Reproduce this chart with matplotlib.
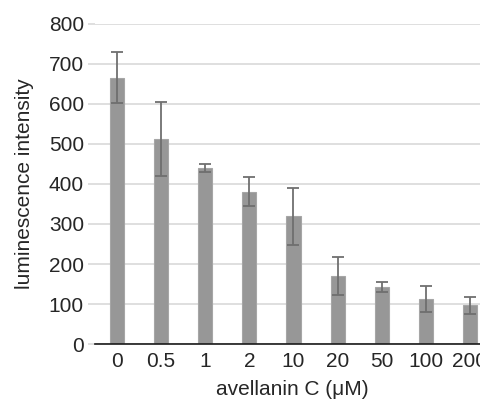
# =========================================================
#        LUMINESCENCE vs AVELLANIN C - BAR CHART
# =========================================================

import numpy as np
import matplotlib
matplotlib.use("Agg")
import matplotlib.pyplot as plt

# =========================================================
# DỮ LIỆU
# =========================================================

concentrations = ["0", "0.5", "1", "2", "10", "20", "50", "100", "200"]

intensity = [666, 512, 441, 381, 319, 170, 142, 112, 97]

intensity_err = [64, 92, 10, 37, 72, 47, 13, 33, 21]

y_ticks = [0, 100, 200, 300, 400, 500, 600, 700, 800]

# =========================================================
# STYLE
# =========================================================

plt.rcParams["font.family"] = ["Liberation Sans", "DejaVu Sans"]
plt.rcParams["font.size"] = 15

bar_color = "#979797"
edge_color = "#a6a6a6"
err_color = "#6f6f6f"
grid_color = "#d9d9d9"
text_color = "#262626"

# =========================================================
# VẼ
# =========================================================

fig = plt.figure(figsize=(4.81, 4.03), dpi=100)

# plot area is wider than the picture: last category is cut off
ax = fig.add_axes([95 / 481, 1 - 344 / 403, 397 / 481, 320 / 403])

x = np.arange(len(concentrations))

ax.bar(
    x,
    intensity,
    width=0.32,
    color=bar_color,
    edgecolor=edge_color,
    linewidth=0.8,
    zorder=2
)

ax.errorbar(
    x,
    intensity,
    yerr=intensity_err,
    fmt="none",
    ecolor=err_color,
    elinewidth=1.3,
    capsize=4,
    capthick=1.3,
    zorder=3
)

ax.set_xlim(-0.5, len(concentrations) - 0.5)
ax.set_ylim(0, 800)

ax.set_yticks(y_ticks)
ax.set_xticks(x)
ax.set_xticklabels(concentrations)

ax.yaxis.grid(True, color=grid_color, linewidth=1.2, zorder=0)
ax.set_axisbelow(True)

for side in ["top", "right", "left"]:
    ax.spines[side].set_visible(False)

ax.spines["bottom"].set_color("#1a1a1a")
ax.spines["bottom"].set_linewidth(1.2)
ax.spines["bottom"].set_clip_on(False)

ax.tick_params(axis="y", length=5, color=grid_color, width=1.2, pad=3,
               labelcolor=text_color)
ax.tick_params(axis="x", length=0, pad=6, labelcolor=text_color)

# zero tick in axis colour
ax.yaxis.get_major_ticks()[0].tick1line.set_color("#1a1a1a")

ax.set_ylabel("luminescence intensity", color=text_color)
ax.yaxis.set_label_coords((34 - 95) / 397, 0.5)

ax.set_xlabel("avellanin C (μM)", color=text_color)
ax.xaxis.set_label_coords((292 - 95) / 397, (344 - 380) / 320)

fig.savefig("out.png", dpi=100)
